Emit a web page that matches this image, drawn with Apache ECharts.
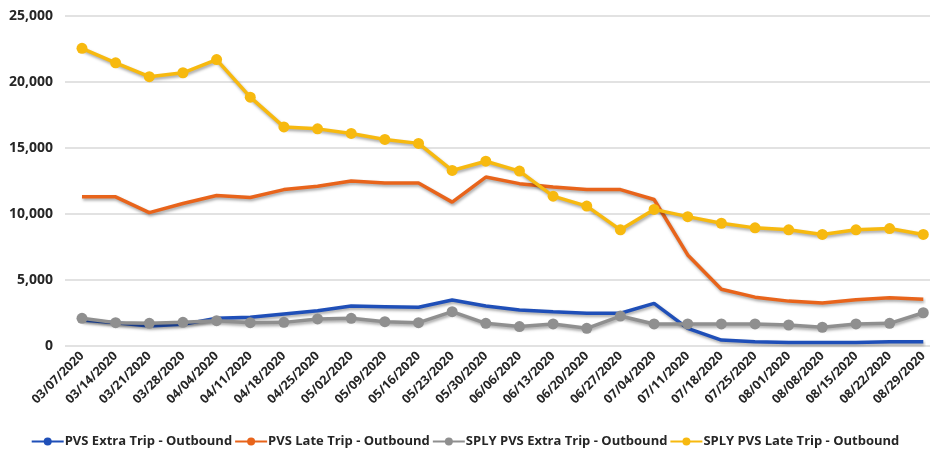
<!DOCTYPE html>
<html>
<head>
<meta charset="utf-8">
<script src="https://cdn.jsdelivr.net/npm/echarts@6/dist/echarts.min.js"></script>
<style>
  html, body { margin: 0; padding: 0; background: #fff; }
  #chart { width: 930px; height: 454px; }
</style>
</head>
<body>
<div id="chart"></div>
<script>
// week dates
var weeks = ["03/07/2020", "03/14/2020", "03/21/2020", "03/28/2020", "04/04/2020", "04/11/2020",
  "04/18/2020", "04/25/2020", "05/02/2020", "05/09/2020", "05/16/2020", "05/23/2020", "05/30/2020",
  "06/06/2020", "06/13/2020", "06/20/2020", "06/27/2020", "07/04/2020", "07/11/2020", "07/18/2020",
  "07/25/2020", "08/01/2020", "08/08/2020", "08/15/2020", "08/22/2020", "08/29/2020"];

var pvsExtra = [1970, 1770, 1520, 1640, 2100, 2170, 2420, 2670, 3030, 2980, 2930, 3480, 3030,
  2730, 2600, 2480, 2480, 3230, 1340, 450, 330, 260, 260, 260, 330, 330];
var pvsLate = [11300, 11300, 10100, 10800, 11400, 11250, 11850, 12100, 12500, 12350, 12350, 10900, 12800,
  12300, 12050, 11850, 11850, 11100, 6900, 4300, 3700, 3400, 3250, 3500, 3650, 3550];
var splyExtra = [2100, 1770, 1720, 1790, 1920, 1770, 1790, 2050, 2100, 1840, 1770, 2600, 1720,
  1470, 1670, 1340, 2270, 1670, 1670, 1670, 1670, 1590, 1420, 1670, 1720, 2520];
var splyLate = [22550, 21450, 20400, 20700, 21700, 18850, 16600, 16450, 16100, 15650, 15350, 13300, 14000,
  13250, 11350, 10600, 8800, 10350, 9800, 9300, 8950, 8800, 8450, 8800, 8900, 8450];

var yTicks = [0, 5000, 10000, 15000, 20000, 25000];

var textFont = "'Open Sans', 'Noto Sans', sans-serif";

function lineSeries(name, data, color, withMarker) {
  return {
    name: name,
    type: "line",
    xAxisIndex: 1,
    yAxisIndex: 1,
    data: data,
    showSymbol: withMarker,
    symbol: withMarker ? "circle" : "none",
    symbolSize: 11,
    itemStyle: { color: color },
    lineStyle: {
      color: color,
      width: 3.5,
      shadowColor: "rgba(0, 0, 0, 0.35)",
      shadowBlur: 3,
      shadowOffsetX: 1,
      shadowOffsetY: 2,
    },
    emphasis: { disabled: true },
    animation: false,
  };
}

var chart = echarts.init(document.getElementById("chart"));
chart.setOption({
  backgroundColor: "#fff",
  // grid 0 carries the gridlines and y labels, grid 1 the data
  grid: [
    { left: 65, top: 16, right: 0, height: 330, containLabel: false },
    { left: 82, top: 16, right: 4, height: 330, containLabel: false },
  ],
  legend: {
    bottom: 1,
    left: "center",
    itemWidth: 32,
    itemHeight: 10,
    itemGap: 2,
    textStyle: {
      fontFamily: textFont,
      fontWeight: "bold",
      fontSize: 13,
      color: "#262626",
      padding: [0, 0, 0, -4],
    },
    data: [
      "PVS Extra Trip - Outbound",
      "PVS Late Trip - Outbound",
      "SPLY PVS Extra Trip - Outbound",
      "SPLY PVS Late Trip - Outbound",
    ],
  },
  xAxis: [
    {
      gridIndex: 0,
      type: "category",
      data: weeks,
      show: false,
    },
    {
      gridIndex: 1,
      type: "category",
      data: weeks,
      boundaryGap: false,
      axisLine: { show: false },
      axisTick: { show: false },
      axisLabel: {
        rotate: 45,
        interval: 0,
        margin: 8,
        fontFamily: textFont,
        fontWeight: "bold",
        fontSize: 12.5,
        color: "#262626",
      },
    },
  ],
  yAxis: [
    {
      gridIndex: 0,
      type: "value",
      min: yTicks[0],
      max: yTicks[yTicks.length - 1],
      interval: 5000,
      axisLine: { show: false },
      axisTick: { show: false },
      splitLine: { lineStyle: { color: "#d9d9d9", width: 1.5 } },
      axisLabel: {
        margin: 12,
        fontFamily: textFont,
        fontWeight: "bold",
        fontSize: 14,
        color: "#262626",
        formatter: function (v) {
          return v.toLocaleString("en-US");
        },
      },
    },
    {
      gridIndex: 1,
      type: "value",
      min: yTicks[0],
      max: yTicks[yTicks.length - 1],
      interval: 5000,
      show: false,
      splitLine: { show: false },
    },
  ],
  series: [
    lineSeries("PVS Extra Trip - Outbound", pvsExtra, "#1F4FB8", false),
    lineSeries("PVS Late Trip - Outbound", pvsLate, "#E8641B", false),
    lineSeries("SPLY PVS Extra Trip - Outbound", splyExtra, "#8F8F8F", true),
    lineSeries("SPLY PVS Late Trip - Outbound", splyLate, "#F7B90F", true),
  ],
});
</script>
</body>
</html>
